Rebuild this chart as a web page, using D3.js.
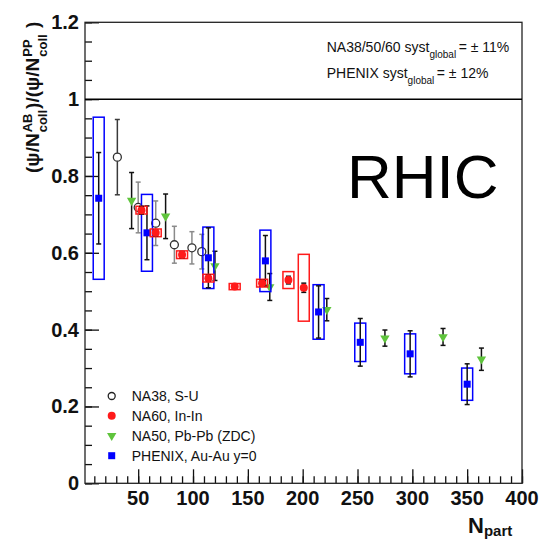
<!DOCTYPE html>
<html>
<head>
<meta charset="utf-8">
<script src="https://cdn.jsdelivr.net/npm/d3@7"></script>
<style>
  body { margin: 0; background: #fff; }
  svg { display: block; }
  text { font-family: "Liberation Sans", Arial, Helvetica, sans-serif; }
</style>
</head>
<body>
<div class="plot"></div>
<script>
// values
const na38Npart = [31, 50, 66, 83, 99, 108];
const na38Ratio = [0.849, 0.718, 0.677, 0.621, 0.613, 0.603];
const na38Err   = [0.098, 0.066, 0.058, 0.048, 0.042, 0.045];

const na60Npart = [53, 66, 90, 114, 138, 163, 187, 201];
const na60Ratio = [0.711, 0.652, 0.595, 0.534, 0.512, 0.521, 0.529, 0.509];
const na60Err   = [0.010, 0.008, 0.008, 0.008, 0.006, 0.008, 0.010, 0.012];
const na60Syst  = [0.010, 0.010, 0.010, 0.010, 0.008, 0.010, 0.022, 0.087];

const na50Npart = [44, 75, 120, 170, 222, 275, 328, 363];
const na50Ratio = [0.736, 0.695, 0.566, 0.511, 0.452, 0.378, 0.381, 0.323];
const na50Err   = [0.073, 0.058, 0.038, 0.035, 0.029, 0.021, 0.022, 0.029];

const phenixNpart = [14, 58, 114, 166, 214.5, 252.5, 298, 350];
const phenixRatio = [0.742, 0.652, 0.587, 0.579, 0.446, 0.367, 0.337, 0.258];
const phenixErr   = [0.119, 0.070, 0.078, 0.066, 0.068, 0.062, 0.060, 0.053];
const phenixSyst  = [0.211, 0.100, 0.080, 0.080, 0.071, 0.050, 0.052, 0.042];

const xTickLabels = [50, 100, 150, 200, 250, 300, 350, 400];
const yTickLabels = [0, 0.2, 0.4, 0.6, 0.8, 1, 1.2];
const legendLabels = ['NA38, S-U', 'NA60, In-In', 'NA50, Pb-Pb (ZDC)', 'PHENIX, Au-Au y=0'];

const width = 548;
const height = 549;
const frameL = 85, frameR = 522, frameT = 22.3, frameB = 483.3;

const svg = d3.select('.plot').append('svg')
    .attr('width', width)
    .attr('height', height);

svg.append('rect').attr('width', width).attr('height', height).attr('fill', '#fff');

const x = d3.scaleLinear().domain([1.5, 400]).range([frameL, frameR]);
const y = d3.scaleLinear().domain([0, 1.2]).range([frameB, frameT]);

// ticks (inside the frame)
const yAxis = svg.append('g').attr('transform', `translate(${frameL},0)`);
yAxis.append('g').call(d3.axisRight(y).tickValues(d3.range(0, 1.2001, 0.05)).tickSize(7).tickFormat(''));
yAxis.append('g').call(d3.axisRight(y).tickValues(yTickLabels).tickSize(14).tickFormat(''));

const xAxis = svg.append('g').attr('transform', `translate(0,${frameB})`);
xAxis.append('g').call(d3.axisTop(x).tickValues(d3.range(10, 400.1, 10)).tickSize(7).tickFormat(''));
xAxis.append('g').call(d3.axisTop(x).tickValues(xTickLabels).tickSize(14).tickFormat(''));

svg.selectAll('.domain').remove();
svg.selectAll('.tick line').attr('stroke', '#111').attr('stroke-width', 1.3);

svg.selectAll('.ylab')
    .data(yTickLabels)
    .enter()
    .append('text')
    .attr('class', 'ylab')
    .attr('x', 79)
    .attr('y', d => y(d) + 7)
    .attr('text-anchor', 'end')
    .attr('font-size', 20)
    .attr('font-weight', 'bold')
    .attr('fill', '#111')
    .text(d => d);

svg.selectAll('.xlab')
    .data(xTickLabels)
    .enter()
    .append('text')
    .attr('class', 'xlab')
    .attr('x', d => x(d))
    .attr('y', 505)
    .attr('text-anchor', 'middle')
    .attr('font-size', 20)
    .attr('font-weight', 'bold')
    .attr('fill', '#111')
    .text(d => d);

// frame and line at 1
svg.append('rect')
    .attr('x', frameL).attr('y', frameT)
    .attr('width', frameR - frameL).attr('height', frameB - frameT)
    .attr('fill', 'none').attr('stroke', '#222').attr('stroke-width', 1.3);

svg.append('line')
    .attr('x1', frameL).attr('x2', frameR)
    .attr('y1', y(1)).attr('y2', y(1))
    .attr('stroke', '#000').attr('stroke-width', 1.5);

// helpers
function errBars(g, xs, vs, es, color) {
    xs.forEach((n, i) => {
        const c = typeof color === 'function' ? color(i) : color;
        const cx = x(n);
        g.append('line').attr('x1', cx).attr('x2', cx)
            .attr('y1', y(vs[i] + es[i])).attr('y2', y(vs[i] - es[i]))
            .attr('stroke', c).attr('stroke-width', 1.5);
        [vs[i] + es[i], vs[i] - es[i]].forEach(v => {
            g.append('line').attr('x1', cx - 2.5).attr('x2', cx + 2.5)
                .attr('y1', y(v)).attr('y2', y(v))
                .attr('stroke', c).attr('stroke-width', 1.5);
        });
    });
}

function systBoxes(g, xs, vs, ss, color) {
    xs.forEach((n, i) => {
        g.append('rect')
            .attr('x', x(n - 5))
            .attr('y', y(vs[i] + ss[i]))
            .attr('width', x(n + 5) - x(n - 5))
            .attr('height', y(vs[i] - ss[i]) - y(vs[i] + ss[i]))
            .attr('fill', 'none')
            .attr('stroke', color)
            .attr('stroke-width', 1.5);
    });
}

const green = '#5fc43c';
const red = '#ff1a1a';
const blue = '#0000ff';
const triangle = d3.symbol().type(d3.symbolTriangle).size(38);

const plot = svg.append('g');

// NA38
errBars(plot, na38Npart, na38Ratio, na38Err, i => i === 0 ? '#3a3a3a' : '#8a8a8a');
plot.selectAll('circle.na38')
    .data(na38Npart)
    .enter()
    .append('circle')
    .attr('class', 'na38')
    .attr('cx', d => x(d))
    .attr('cy', (d, i) => y(na38Ratio[i]))
    .attr('r', 4)
    .attr('fill', '#fff')
    .attr('stroke', '#333')
    .attr('stroke-width', 1.3);

// NA50
errBars(plot, na50Npart, na50Ratio, na50Err, '#111');
plot.selectAll('path.na50')
    .data(na50Npart)
    .enter()
    .append('path')
    .attr('class', 'na50')
    .attr('d', triangle)
    .attr('transform', (d, i) => `translate(${x(d)},${y(na50Ratio[i])}) rotate(180)`)
    .attr('fill', green);

// PHENIX
systBoxes(plot, phenixNpart, phenixRatio, phenixSyst, blue);
errBars(plot, phenixNpart, phenixRatio, phenixErr, '#111');
plot.selectAll('rect.phenix')
    .data(phenixNpart)
    .enter()
    .append('rect')
    .attr('class', 'phenix')
    .attr('x', d => x(d) - 3.5)
    .attr('y', (d, i) => y(phenixRatio[i]) - 3.5)
    .attr('width', 7)
    .attr('height', 7)
    .attr('fill', blue);

// NA60
systBoxes(plot, na60Npart, na60Ratio, na60Syst, red);
errBars(plot, na60Npart, na60Ratio, na60Err, '#111');
plot.selectAll('circle.na60')
    .data(na60Npart)
    .enter()
    .append('circle')
    .attr('class', 'na60')
    .attr('cx', d => x(d))
    .attr('cy', (d, i) => y(na60Ratio[i]))
    .attr('r', 4)
    .attr('fill', red);

// legend
const legend = svg.append('g');
const ly = [396, 415.7, 435.7, 455.7];
legend.append('circle').attr('cx', 111.7).attr('cy', ly[0]).attr('r', 3.5)
    .attr('fill', 'none').attr('stroke', '#222').attr('stroke-width', 1.3);
legend.append('circle').attr('cx', 111.7).attr('cy', ly[1]).attr('r', 4).attr('fill', red);
legend.append('path').attr('d', triangle)
    .attr('transform', `translate(111.7,${ly[2]}) rotate(180)`).attr('fill', green);
legend.append('rect').attr('x', 108.2).attr('y', ly[3] - 3.5)
    .attr('width', 7).attr('height', 7).attr('fill', blue);
legend.selectAll('text')
    .data(legendLabels)
    .enter()
    .append('text')
    .attr('x', 131.7)
    .attr('y', (d, i) => ly[i] + 5)
    .attr('font-size', 14)
    .attr('fill', '#111')
    .text(d => d);

// global systematics note
const notes = [['NA38/50/60 syst', '= \u00b1 11%', 52.3], ['PHENIX syst', '= \u00b1 12%', 78.3]];
notes.forEach(n => {
    const t = svg.append('text').attr('x', 326.7).attr('y', n[2]).attr('font-size', 14).attr('fill', '#111')
        .style('white-space', 'pre');
    t.append('tspan').text(n[0]);
    t.append('tspan').attr('font-size', 10).attr('dy', 5.5).text('global');
    t.append('tspan').attr('dy', -5.5).attr('dx', 2.5).text(n[1]);
});

svg.append('text')
    .attr('x', 347)
    .attr('y', 198)
    .attr('font-size', 62)
    .attr('fill', '#000')
    .text('RHIC');

// x title
const xt = svg.append('text').attr('x', 468).attr('y', 533.3)
    .attr('font-size', 22).attr('font-weight', 'bold').attr('fill', '#111');
xt.append('tspan').text('N');
xt.append('tspan').attr('font-size', 15).attr('dy', 3).text('part');

// y title, built along its baseline then turned
const yt = svg.append('g').attr('transform', 'translate(38.5,173) rotate(-90)');
const pieces = [
    { t: '(\u03c8/N' },
    { sup: 'AB', sub: 'coll' },
    { t: ')/(\u03c8/N' },
    { sup: 'PP', sub: 'coll' },
    { t: ' )' }
];
let pos = 0;
pieces.forEach(p => {
    if (p.t) {
        const el = yt.append('text').attr('x', pos).attr('y', 0)
            .attr('font-size', 19).attr('font-weight', 'bold').attr('fill', '#111')
            .style('white-space', 'pre').text(p.t);
        pos += el.node().getComputedTextLength();
    } else {
        const a = yt.append('text').attr('x', pos + 1).attr('y', -7)
            .attr('font-size', 13).attr('font-weight', 'bold').attr('fill', '#111').text(p.sup);
        const b = yt.append('text').attr('x', pos + 1).attr('y', 8.5)
            .attr('font-size', 13).attr('font-weight', 'bold').attr('fill', '#111').text(p.sub);
        pos += Math.max(a.node().getComputedTextLength(), b.node().getComputedTextLength()) + 2;
    }
});
</script>
</body>
</html>
